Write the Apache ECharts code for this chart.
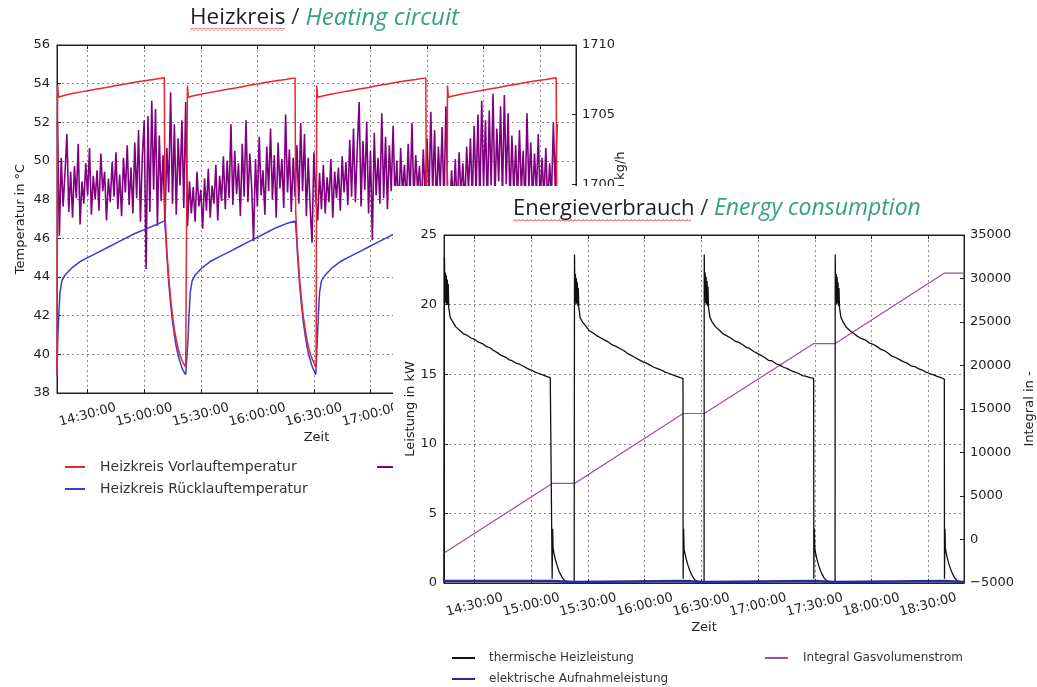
<!DOCTYPE html>
<html>
<head>
<meta charset="utf-8">
<title>Heizkreis / Energieverbrauch</title>
<script src="https://cdn.jsdelivr.net/npm/echarts@6/dist/echarts.min.js"></script>
<style>
  html, body { margin: 0; padding: 0; background: #fff; }
  #stage { position: relative; width: 1037px; height: 687px; overflow: hidden; }
  #heizkreis { position: absolute; left: 0; top: 0; width: 680px; height: 510px; }
  #energie { position: absolute; left: 393px; top: 186px; width: 644px; height: 501px; background: #fff; }
</style>
</head>
<body>
<div id="stage">
  <div id="heizkreis"></div>
  <div id="energie"></div>
</div>
<script>
// gemeinsame Zeitachse
var zeitMin = '14:13:45';
var zeitMax = '18:49:00';
var zeitTicks = ['14:30', '15:00', '15:30', '16:00', '16:30', '17:00', '17:30', '18:00', '18:30'];

// Heizkreis: Vorlauf (rot)
var vorlaufZeit = [
  '14:13:45', '14:14:05', '14:14:35', '14:16:00', '14:20:00', '14:25:00', '14:30:00', '14:35:00', '14:40:00', '14:45:00',
  '14:50:00', '14:55:00', '15:00:00', '15:05:00', '15:10:40', '15:11:00',
  '15:12:00', '15:13:00', '15:14:00', '15:15:00', '15:16:00', '15:17:00', '15:18:00', '15:19:00', '15:20:00', '15:21:00', '15:22:00', '15:22:40',
  '15:22:55', '15:23:25', '15:25:00', '15:30:00', '15:35:00', '15:40:00', '15:45:00', '15:50:00', '15:55:00', '16:00:00',
  '16:05:00', '16:10:00', '16:15:00', '16:20:00', '16:20:20',
  '16:21:20', '16:22:20', '16:23:20', '16:24:20', '16:25:20', '16:26:20', '16:27:20', '16:28:20', '16:29:20', '16:30:20', '16:31:10',
  '16:31:30', '16:32:00', '16:34:00', '16:39:00', '16:44:00', '16:49:00', '16:54:00', '16:59:00', '17:04:00', '17:09:00',
  '17:14:00', '17:19:00', '17:24:00', '17:29:20', '17:29:40',
  '17:30:40', '17:31:40', '17:32:40', '17:33:40', '17:34:40', '17:35:40', '17:36:40', '17:37:40', '17:38:40', '17:39:40', '17:40:30',
  '17:40:50', '17:41:20', '17:43:00', '17:48:00', '17:53:00', '17:58:00', '18:03:00', '18:08:00', '18:13:00', '18:18:00',
  '18:23:00', '18:28:00', '18:33:00', '18:38:30', '18:38:50',
  '18:39:50', '18:40:50'
];
var vorlaufWert = [
  38.9, 53.9, 53.3, 53.35, 53.45, 53.55, 53.63, 53.72, 53.8, 53.9,
  53.98, 54.07, 54.15, 54.22, 54.3, 47.4,
  45.4, 44.0, 42.9, 42.0, 41.3, 40.75, 40.3, 39.95, 39.7, 39.5, 39.35, 39.3,
  53.9, 53.3, 53.35, 53.45, 53.55, 53.63, 53.72, 53.8, 53.9, 53.98,
  54.07, 54.15, 54.22, 54.3, 47.4,
  45.4, 44.0, 42.9, 42.0, 41.3, 40.75, 40.3, 39.95, 39.7, 39.5, 39.35,
  53.9, 53.3, 53.35, 53.45, 53.55, 53.63, 53.72, 53.8, 53.9, 53.98,
  54.07, 54.15, 54.22, 54.3, 47.4,
  45.4, 44.0, 42.9, 42.0, 41.3, 40.75, 40.3, 39.95, 39.7, 39.5, 39.35,
  53.9, 53.3, 53.35, 53.45, 53.55, 53.63, 53.72, 53.8, 53.9, 53.98,
  54.07, 54.15, 54.22, 54.3, 47.4,
  45.4, 44.0
];

// Heizkreis: Ruecklauf (blau)
var ruecklaufZeit = [
  '14:13:45', '14:14:10', '14:14:40', '14:15:20', '14:16:20', '14:18:00', '14:22:00', '14:26:00', '14:30:00', '14:35:00',
  '14:40:00', '14:45:00', '14:50:00', '14:55:00', '15:00:00', '15:05:00', '15:10:50',
  '15:11:30', '15:12:00', '15:13:00', '15:14:00', '15:15:00', '15:16:00', '15:17:00', '15:18:00', '15:19:00', '15:20:00', '15:21:00', '15:22:00', '15:22:50',
  '15:23:15', '15:23:45', '15:24:25', '15:25:25', '15:27:00', '15:31:00', '15:35:00', '15:40:00', '15:45:00', '15:50:00',
  '15:55:00', '16:00:00', '16:05:00', '16:10:00', '16:15:00', '16:20:10',
  '16:20:50', '16:21:20', '16:22:20', '16:23:20', '16:24:20', '16:25:20', '16:26:20', '16:27:20', '16:28:20', '16:29:20', '16:30:20', '16:31:00', '16:31:25',
  '16:31:50', '16:32:20', '16:33:00', '16:34:00', '16:36:00', '16:40:00', '16:44:00', '16:49:00', '16:54:00', '16:59:00',
  '17:04:00', '17:09:00', '17:14:00', '17:19:00', '17:24:00', '17:29:30',
  '17:30:10', '17:30:40', '17:31:40', '17:32:40', '17:33:40', '17:34:40', '17:35:40', '17:36:40', '17:37:40', '17:38:40', '17:39:40', '17:40:20', '17:40:45',
  '17:41:10', '17:41:40', '17:42:20', '17:43:20', '17:45:00', '17:49:00', '17:53:00', '17:58:00', '18:03:00', '18:08:00',
  '18:13:00', '18:18:00', '18:23:00', '18:28:00', '18:33:00', '18:38:40',
  '18:39:20', '18:39:50', '18:40:50'
];
var ruecklaufWert = [
  38.9, 40.8, 42.0, 43.2, 43.8, 44.1, 44.5, 44.8, 45.0, 45.25,
  45.5, 45.75, 46.0, 46.25, 46.45, 46.65, 46.9,
  46.0, 45.1, 43.7, 42.6, 41.7, 41.0, 40.4, 39.95, 39.6, 39.3, 39.1, 38.95, 38.85,
  40.8, 42.0, 43.2, 43.8, 44.1, 44.5, 44.8, 45.05, 45.3, 45.55,
  45.8, 46.05, 46.3, 46.55, 46.75, 46.9,
  46.0, 45.1, 43.7, 42.6, 41.7, 41.0, 40.4, 39.95, 39.6, 39.3, 39.1, 38.95, 38.85,
  40.8, 42.0, 43.2, 43.8, 44.1, 44.5, 44.8, 45.05, 45.3, 45.55,
  45.8, 46.05, 46.3, 46.55, 46.75, 46.9,
  46.0, 45.1, 43.7, 42.6, 41.7, 41.0, 40.4, 39.95, 39.6, 39.3, 39.1, 38.95, 38.85,
  40.8, 42.0, 43.2, 43.8, 44.1, 44.5, 44.8, 45.05, 45.3, 45.55,
  45.8, 46.05, 46.3, 46.55, 46.75, 46.9,
  46.0, 45.1, 43.7
];

// Heizkreis: Massenstrom (lila), ein Wert pro Minute ab 14:14
var massenstromStart = '14:14:00';
var massenstromWert = [
  1704.5, 1696.3, 1701.9, 1698.4, 1700.8, 1703.6, 1698.0, 1700.9, 1697.6, 1701.3,
  1699.0, 1702.9, 1697.1, 1700.2, 1698.6, 1701.5, 1699.2, 1702.6, 1697.8, 1700.6,
  1698.9, 1701.0, 1698.1, 1702.2, 1699.5, 1700.9, 1697.4, 1700.4, 1698.7, 1701.6,
  1699.1, 1702.3, 1698.2, 1700.7, 1697.7, 1701.9, 1699.4, 1702.8, 1698.5, 1701.2,
  1697.9, 1703.0, 1699.0, 1703.9, 1697.3, 1702.0, 1704.6, 1693.9, 1704.9, 1698.0,
  1706.0, 1699.6, 1705.4, 1697.0, 1703.5, 1698.8, 1702.1,
  1697.2, 1702.6, 1699.4, 1706.6, 1698.6, 1704.3, 1697.8, 1703.3, 1699.9, 1704.6, 1698.3, 1705.9,
  1697.0, 1700.2, 1697.9, 1699.8, 1697.3, 1700.9, 1698.4, 1699.6, 1696.8, 1700.4,
  1698.1, 1701.1, 1697.6, 1699.9, 1698.6, 1701.4, 1697.4, 1700.6, 1698.8, 1702.0,
  1698.2, 1701.7, 1699.0, 1704.3, 1698.5, 1702.4, 1699.3, 1701.5, 1697.7, 1702.9,
  1699.1, 1704.6, 1698.7, 1702.2, 1699.8, 1695.9, 1701.8, 1698.4, 1703.4, 1699.2,
  1701.0, 1697.8, 1702.7, 1699.5, 1704.0, 1698.9, 1702.1, 1697.6, 1703.0, 1699.7,
  1701.8, 1698.3, 1705.0, 1699.4, 1702.5, 1698.0, 1701.9, 1699.1,
  1702.8, 1698.6, 1704.4, 1699.5, 1703.6, 1697.7, 1701.9, 1698.4, 1695.8, 1702.3, 1699.0,
  1697.4, 1700.8, 1698.2, 1701.4, 1697.9, 1700.5, 1698.7, 1701.8, 1697.6, 1700.9,
  1699.0, 1701.2, 1698.1, 1702.0, 1699.4, 1701.6, 1698.5, 1703.2, 1699.1, 1704.0,
  1698.7, 1702.6, 1705.9, 1698.4, 1703.1, 1699.6, 1704.5, 1697.9, 1702.4, 1696.0,
  1703.7, 1699.2, 1701.9, 1698.6, 1705.1, 1699.0, 1703.4, 1698.2, 1702.8, 1699.5,
  1704.2, 1698.9, 1701.7, 1697.7, 1702.6, 1699.3, 1701.4, 1698.5, 1702.9, 1699.0,
  1704.4, 1698.7, 1702.1, 1699.6, 1701.3, 1698.0, 1702.5, 1699.2,
  1703.3, 1698.8, 1705.2, 1699.4, 1703.9, 1698.1, 1702.7, 1699.7, 1704.1, 1698.5, 1705.6, 1699.0,
  1697.8, 1701.0, 1698.6, 1701.8, 1698.0, 1702.3, 1699.2, 1701.5, 1698.4, 1702.7,
  1699.6, 1703.3, 1698.9, 1704.2, 1699.3, 1705.0, 1698.7, 1706.0, 1699.8, 1704.6,
  1698.5, 1705.3, 1699.9, 1706.5, 1698.9, 1704.0, 1700.2, 1705.6, 1699.1, 1706.4,
  1700.0, 1705.1, 1698.6, 1703.5, 1699.4, 1702.8, 1698.8, 1703.9, 1699.5, 1702.4,
  1698.3, 1705.1, 1699.7, 1703.0, 1698.9, 1702.2, 1699.3, 1703.6, 1698.6, 1701.9,
  1699.0, 1702.6, 1698.4, 1701.5, 1699.2, 1704.4, 1699.8, 1704.3
];

// Energie: thermische Heizleistung (schwarz)
var heizZeit = [
  '14:13:45', '14:14:00', '14:14:15', '14:14:30', '14:14:45', '14:15:00', '14:15:15', '14:15:30', '14:15:45', '14:16:00', '14:16:15',
  '14:17:00', '14:18:00', '14:20:00', '14:22:00', '14:24:00', '14:26:00', '14:28:00', '14:30:00', '14:32:00', '14:34:00',
  '14:36:00', '14:38:00', '14:40:00', '14:42:00', '14:44:00', '14:46:00', '14:48:00', '14:50:00', '14:52:00', '14:54:00',
  '14:56:00', '14:58:00', '15:00:00', '15:02:00', '15:04:00', '15:06:00', '15:08:00', '15:10:00', '15:10:55',
  '15:11:00', '15:11:15', '15:11:30', '15:12:00', '15:12:40', '15:13:30', '15:14:30', '15:15:30', '15:16:30', '15:17:30', '15:19:00', '15:21:00', '15:22:40',
  '15:22:50', '15:23:05', '15:23:20', '15:23:35', '15:23:50', '15:24:05', '15:24:20', '15:24:35', '15:24:50', '15:25:05',
  '15:25:50', '15:26:50', '15:28:50', '15:30:50', '15:32:50', '15:34:50', '15:36:50', '15:38:50', '15:40:50', '15:42:50',
  '15:44:50', '15:46:50', '15:48:50', '15:50:50', '15:52:50', '15:54:50', '15:56:50', '15:58:50', '16:00:50', '16:02:50',
  '16:04:50', '16:06:50', '16:08:50', '16:10:50', '16:12:50', '16:14:50', '16:16:50', '16:18:50', '16:20:15',
  '16:20:20', '16:20:35', '16:20:50', '16:21:20', '16:22:00', '16:22:50', '16:23:50', '16:24:50', '16:25:50', '16:26:50', '16:28:20', '16:30:20', '16:31:25',
  '16:31:30', '16:31:45', '16:32:00', '16:32:15', '16:32:30', '16:32:45', '16:33:00', '16:33:15', '16:33:30', '16:33:45',
  '16:34:30', '16:35:30', '16:37:30', '16:39:30', '16:41:30', '16:43:30', '16:45:30', '16:47:30', '16:49:30', '16:51:30',
  '16:53:30', '16:55:30', '16:57:30', '16:59:30', '17:01:30', '17:03:30', '17:05:30', '17:07:30', '17:09:30', '17:11:30',
  '17:13:30', '17:15:30', '17:17:30', '17:19:30', '17:21:30', '17:23:30', '17:25:30', '17:27:30', '17:29:25',
  '17:29:30', '17:29:45', '17:30:00', '17:30:30', '17:31:10', '17:32:00', '17:33:00', '17:34:00', '17:35:00', '17:36:00', '17:37:30', '17:39:30', '17:40:45',
  '17:40:50', '17:41:05', '17:41:20', '17:41:35', '17:41:50', '17:42:05', '17:42:20', '17:42:35', '17:42:50', '17:43:05',
  '17:43:50', '17:44:50', '17:46:50', '17:48:50', '17:50:50', '17:52:50', '17:54:50', '17:56:50', '17:58:50', '18:00:50',
  '18:02:50', '18:04:50', '18:06:50', '18:08:50', '18:10:50', '18:12:50', '18:14:50', '18:16:50', '18:18:50', '18:20:50',
  '18:22:50', '18:24:50', '18:26:50', '18:28:50', '18:30:50', '18:32:50', '18:34:50', '18:36:50', '18:38:35',
  '18:38:40', '18:38:55', '18:39:10', '18:39:40', '18:40:20', '18:41:10', '18:42:10', '18:43:10', '18:44:10', '18:45:10', '18:46:40', '18:48:30'
];
var heizWert = [
  0.0, 23.4, 20.3, 22.3, 20.1, 22.1, 20.0, 21.8, 20.0, 21.5, 19.8,
  19.1, 18.85, 18.4, 18.15, 17.9, 17.8, 17.6, 17.5, 17.3, 17.2,
  17.0, 16.9, 16.7, 16.55, 16.35, 16.25, 16.05, 15.95, 15.8, 15.7,
  15.55, 15.4, 15.3, 15.15, 15.05, 14.95, 14.85, 14.75, 14.7,
  0.3, 3.9, 2.5, 2.1, 1.7, 1.3, 0.9, 0.6, 0.35, 0.2, 0.08, 0.02, 0.0,
  23.6, 20.2, 22.2, 20.0, 21.9, 20.1, 21.6, 19.9, 21.2, 19.8,
  19.05, 18.8, 18.45, 18.1, 17.95, 17.75, 17.6, 17.45, 17.3, 17.1,
  17.0, 16.85, 16.7, 16.5, 16.35, 16.2, 16.05, 15.9, 15.8, 15.65,
  15.5, 15.4, 15.3, 15.15, 15.05, 14.95, 14.85, 14.75, 14.7,
  0.3, 3.9, 2.4, 2.1, 1.7, 1.3, 0.9, 0.6, 0.35, 0.2, 0.08, 0.02, 0.0,
  23.6, 20.4, 22.3, 20.1, 22.0, 20.0, 21.7, 19.9, 21.3, 19.8,
  19.1, 18.8, 18.4, 18.15, 17.9, 17.75, 17.6, 17.4, 17.3, 17.15,
  16.95, 16.85, 16.65, 16.5, 16.35, 16.2, 16.0, 15.95, 15.75, 15.65,
  15.5, 15.4, 15.25, 15.15, 15.05, 14.9, 14.85, 14.75, 14.7,
  0.3, 3.9, 2.5, 2.1, 1.7, 1.3, 0.9, 0.6, 0.35, 0.2, 0.08, 0.02, 0.0,
  23.6, 20.3, 22.2, 20.0, 22.0, 20.1, 21.6, 19.9, 21.2, 19.8,
  19.1, 18.8, 18.35, 18.1, 17.9, 17.7, 17.55, 17.45, 17.25, 17.15,
  17.0, 16.8, 16.7, 16.5, 16.3, 16.2, 16.05, 15.9, 15.8, 15.6,
  15.55, 15.4, 15.3, 15.15, 15.05, 14.95, 14.85, 14.75, 14.65,
  0.3, 3.9, 2.5, 2.1, 1.7, 1.3, 0.9, 0.6, 0.35, 0.2, 0.08, 0.02
];

// Energie: elektrische Aufnahmeleistung (blau)
var elektrZeit = ['14:13:45', '15:11:00', '15:11:30', '15:22:50', '15:23:00', '16:20:20', '16:20:50', '16:31:30',
  '16:31:40', '17:29:30', '17:30:00', '17:40:50', '17:41:00', '18:38:40', '18:39:10', '18:49:00'];
var elektrWert = [0.15, 0.15, 0.08, 0.08, 0.15, 0.15, 0.08, 0.08, 0.15, 0.15, 0.08, 0.08, 0.15, 0.15, 0.08, 0.08];

// Energie: Integral Gasvolumenstrom (lila)
var integralZeit = ['14:13:45', '15:11:00', '15:22:50', '16:20:20', '16:31:30', '17:29:30', '17:40:50', '18:38:40', '18:49:00'];
var integralWert = [-1550, 6450, 6450, 14480, 14480, 22520, 22520, 30620, 30620];

function toMin(s) {
    var p = s.split(':');
    return Number(p[0]) * 60 + Number(p[1]) + (p.length > 2 ? Number(p[2]) / 60 : 0);
}
function paare(zeiten, werte) {
    return zeiten.map(function (z, i) { return [toMin(z), werte[i]]; });
}
function minutenReihe(start, werte) {
    var t0 = toMin(start);
    return werte.map(function (w, i) { return [t0 + i, w]; });
}
function zeitLabel(v) {
    var h = Math.floor(v / 60 + 1e-6);
    var m = Math.round(v - h * 60);
    return (h < 10 ? '0' : '') + h + ':' + (m < 10 ? '0' : '') + m + ':00';
}
function squiggle() {
    var c = document.createElement('canvas');
    c.width = 4; c.height = 3;
    var g = c.getContext('2d');
    g.strokeStyle = '#d92c2c';
    g.lineWidth = 1;
    g.beginPath();
    g.moveTo(0, 2.5); g.lineTo(2, 0.5); g.lineTo(4, 2.5);
    g.stroke();
    return c;
}

var schrift = 'DejaVu Sans';
var achsenText = { color: '#222', fontFamily: schrift, fontSize: 13 };
var gitter = { show: true, lineStyle: { color: '#8a8a8a', type: [2, 3], width: 1 } };

function zeitAchse() {
    var ticks = zeitTicks.map(toMin);
    return {
        type: 'value',
        min: toMin(zeitMin),
        max: toMin(zeitMax),
        name: 'Zeit',
        nameLocation: 'middle',
        nameGap: 38,
        nameMoveOverlap: false,
        nameTextStyle: achsenText,
        axisLine: { show: true, onZero: false, lineStyle: { color: '#222' } },
        axisTick: { show: true, inside: true, length: 4, customValues: ticks, lineStyle: { color: '#222' } },
        axisLabel: {
            customValues: ticks, formatter: zeitLabel, rotate: 15, align: 'center', verticalAlign: 'middle',
            margin: 22, color: '#222', fontFamily: schrift, fontSize: 13
        },
        splitLine: gitter
    };
}
// obere Rahmenlinie mit Ticks, ohne Beschriftung
function zeitAchseOben() {
    var ticks = zeitTicks.map(toMin);
    return {
        type: 'value', position: 'top',
        min: toMin(zeitMin), max: toMin(zeitMax),
        axisLine: { show: true, onZero: false, lineStyle: { color: '#222' } },
        axisTick: { show: true, inside: true, length: 4, customValues: ticks, lineStyle: { color: '#222' } },
        axisLabel: { show: false },
        splitLine: { show: false }
    };
}
function wertAchse(o) {
    return {
        type: 'value',
        min: o.min, max: o.max, interval: o.interval,
        position: o.position,
        name: o.name,
        nameLocation: 'middle',
        nameRotate: 90,
        nameGap: o.nameGap,
        nameMoveOverlap: false,
        nameTextStyle: achsenText,
        axisLine: { show: true, lineStyle: { color: '#222' } },
        axisTick: { show: true, inside: true, length: 4, lineStyle: { color: '#222' } },
        axisLabel: {
            color: '#222', fontFamily: schrift, fontSize: 13, margin: o.margin,
            formatter: function (v) { return String(v).replace('-', '\u2212'); }
        },
        splitLine: o.grid ? gitter : { show: false }
    };
}
function linie(name, data, farbe, breite, yIndex) {
    return {
        name: name, type: 'line', data: data, yAxisIndex: yIndex || 0,
        symbol: 'none', showSymbol: false, silent: true,
        lineStyle: { color: farbe, width: breite },
        itemStyle: { color: farbe }
    };
}
function titel(links, oben, deutsch, englisch, gr, grEn) {
    return {
        text: '{de|' + deutsch + '}{sl| / }{en|' + englisch + '}',
        left: links, top: oben, padding: 0,
        textStyle: {
            fontFamily: 'Open Sans', fontSize: gr, fontWeight: 'normal', color: '#222',
            rich: {
                de: { fontFamily: 'Open Sans', fontSize: gr, color: '#1e1e1e' },
                sl: { fontFamily: 'Open Sans', fontSize: gr, color: '#333' },
                en: { fontFamily: 'Open Sans', fontSize: grEn, fontStyle: 'italic', color: '#36a086' }
            }
        }
    };
}
function legende(links, oben, gap, breite, gr, abstand, namen) {
    return {
        orient: 'vertical', left: links, top: oben, padding: 0, icon: 'rect',
        itemWidth: breite, itemHeight: 2, itemGap: gap,
        textStyle: { color: '#333', fontFamily: schrift, fontSize: gr, padding: [0, 0, 0, abstand] },
        data: namen
    };
}

var heizkreis = echarts.init(document.getElementById('heizkreis'));
heizkreis.setOption({
    animation: false,
    backgroundColor: '#fff',
    title: titel(190, 6, 'Heizkreis', 'Heating circuit', 22.5, 24),
    graphic: [{ type: 'rect', silent: true, shape: { x: 190, y: 28, width: 95, height: 3 }, style: { fill: { image: squiggle(), repeat: 'repeat' } } }],
    grid: { left: 57, top: 45, width: 519, height: 348, show: true, borderColor: '#222', borderWidth: 1, outerBoundsMode: 'none' },
    legend: [
        legende(65, 460, 8, 20, 14, 10, ['Heizkreis Vorlauftemperatur', 'Heizkreis Rücklauftemperatur']),
        legende(377, 460, 8, 20, 14, 10, ['Heizkreis Massenstrom'])
    ],
    xAxis: [zeitAchse(), zeitAchseOben()],
    yAxis: [
        wertAchse({ min: 38, max: 56, interval: 2, name: 'Temperatur in °C', nameGap: 30, margin: 7, grid: true }),
        wertAchse({ min: 1685, max: 1710, interval: 5, position: 'right', name: 'Massenstrom in kg/h', nameGap: 38, margin: 6 })
    ],
    series: [
        linie('Heizkreis Massenstrom', minutenReihe(massenstromStart, massenstromWert), '#800080', 1.6, 1),
        linie('Heizkreis Rücklauftemperatur', paare(ruecklaufZeit, ruecklaufWert), '#3b3bd6', 1.5),
        linie('Heizkreis Vorlauftemperatur', paare(vorlaufZeit, vorlaufWert), '#e8262b', 1.5)
    ]
});

var energie = echarts.init(document.getElementById('energie'));
energie.setOption({
    animation: false,
    backgroundColor: '#fff',
    title: titel(120, 11, 'Energieverbrauch', 'Energy consumption', 22, 23),
    graphic: [{ type: 'rect', silent: true, shape: { x: 120, y: 33, width: 178, height: 3 }, style: { fill: { image: squiggle(), repeat: 'repeat' } } }],
    grid: { left: 51, top: 49, width: 520, height: 348, show: true, borderColor: '#222', borderWidth: 1, outerBoundsMode: 'none' },
    legend: [
        legende(59, 466, 9, 23, 12, 9, ['thermische Heizleistung', 'elektrische Aufnahmeleistung']),
        legende(372, 466, 9, 23, 12, 10, ['Integral Gasvolumenstrom'])
    ],
    xAxis: [zeitAchse(), zeitAchseOben()],
    yAxis: [
        wertAchse({ min: 0, max: 25, interval: 5, name: 'Leistung in kW', nameGap: 27, margin: 7, grid: true }),
        wertAchse({ min: -5000, max: 35000, interval: 5000, position: 'right', name: 'Integral in -', nameGap: 59, margin: 6 })
    ],
    series: [
        linie('Integral Gasvolumenstrom', paare(integralZeit, integralWert), '#9c4f9c', 1.2, 1),
        linie('thermische Heizleistung', paare(heizZeit, heizWert), '#111111', 1.3),
        linie('elektrische Aufnahmeleistung', paare(elektrZeit, elektrWert), '#2a2a9e', 2.5)
    ]
});
</script>
</body>
</html>
